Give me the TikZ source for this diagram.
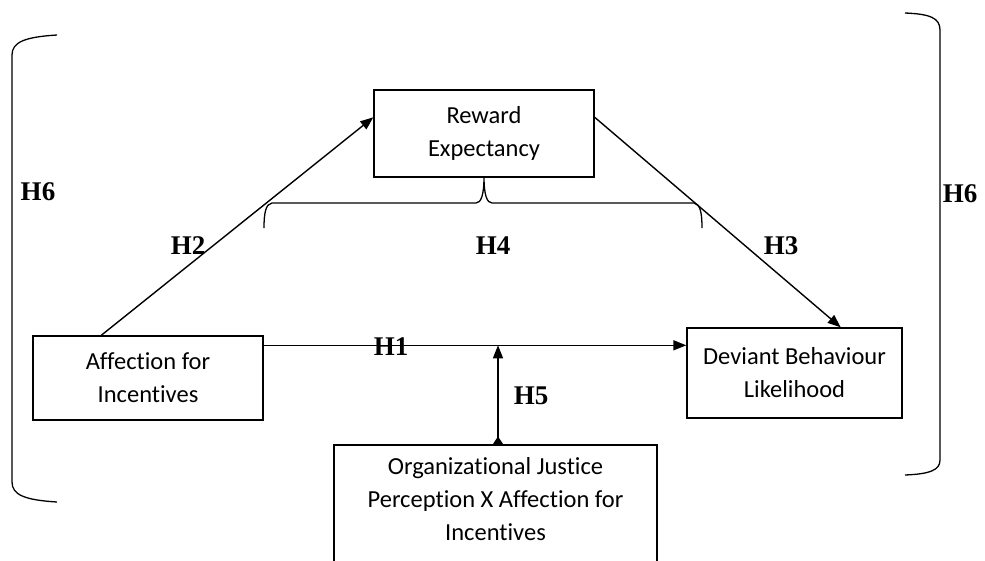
\documentclass[tikz,border=0pt]{standalone}
\usepackage{fontspec}
\setmainfont{Carlito}[Ligatures={NoCommon}]
\newfontfamily\hfont{Liberation Serif}
\usetikzlibrary{arrows.meta}
\begin{document}
\begin{tikzpicture}[x=1pt,y=-1pt,
  box/.style={draw,line width=1.4pt,inner sep=0pt,align=center,
    font=\fontsize{24.5}{33}\selectfont},
  hlab/.style={font=\hfont\bfseries\fontsize{27}{30}\selectfont,inner sep=0pt},
  conn/.style={line width=1.4pt,-{Triangle[length=13pt,width=10pt]}},
  brk/.style={line width=1.3pt}]
\useasboundingbox (0,0) rectangle (985,560);
\clip (0,0) rectangle (985,560);
% boxes
\node[box,minimum width=220pt,minimum height=87pt] (reward) at (484,133.5) {Reward\\Expectancy};
\node[box,minimum width=230pt,minimum height=84pt] (affect) at (148,378) {Affection for\\Incentives};
\node[box,minimum width=215pt,minimum height=90pt] (deviant) at (794.5,373) {Deviant Behaviour\\Likelihood};
\node[box,minimum width=323pt,minimum height=150pt] (org) at (495.5,520) {};
\node[box,draw=none,anchor=center] (orgtext) at ([yshift=-55pt]org.north) {Organizational Justice\\Perception X Affection for\\Incentives};
% connectors
\coordinate (h1s) at ([yshift=-10pt]affect.north east);
\coordinate (h1e) at (h1s -| deviant.west);
\draw[conn] (h1s) -- (h1e);
\draw[conn] ([xshift=69pt]affect.north west) -- ([yshift=-28pt]reward.north west);
\draw[conn] ([yshift=-28pt]reward.north east) -- ([xshift=-62pt]deviant.north east);
\coordinate (h5b) at ([xshift=2.5pt]org.north);
\coordinate (h5t) at (h5b |- h1s);
\draw[line width=1.4pt,{Triangle[reversed,length=8pt,width=10pt]}-{Triangle[length=13pt,width=10pt]}] (h5b) -- (h5t);
% brace under reward
\draw[brk] (264,228) .. controls (264,212) and (266,204) .. (272,203) -- (476,203)
  .. controls (481,203) and (484,195) .. (484,177)
  .. controls (484,195) and (487,203) .. (492,203) -- (694,203)
  .. controls (700,204) and (702,212) .. (702,228);
% outer brackets
\draw[brk] (57,35) .. controls (25,37) and (12,42) .. (12,55) -- (12,482)
  .. controls (12,495) and (25,500) .. (57,502);
\draw[brk] (905,13) .. controls (930,14) and (940,18) .. (940,30) -- (940,460)
  .. controls (940,470) and (930,474) .. (905,475);
% labels
\node[hlab] (lh1) at (391,347) {H1};
\node[hlab] (lh2) at (188,246) {H2};
\node[hlab] (lh3) at (781,246) {H3};
\node[hlab] (lh4) at (493,246) {H4};
\node[hlab] (lh5) at (531,396) {H5};
\node[hlab] (lh6a) at (38,192) {H6};
\node[hlab] (lh6b) at (960,194) {H6};
\end{tikzpicture}
\end{document}
